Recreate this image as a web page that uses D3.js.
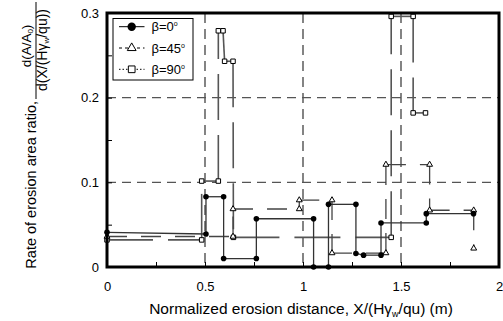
<!DOCTYPE html>
<html><head><meta charset="utf-8">
<script src="https://cdn.jsdelivr.net/npm/d3@7"></script>
<style>body{margin:0;background:#fff}svg{display:block}text{font-family:"Liberation Sans",Arial,sans-serif;fill:#000}</style>
</head><body><svg id="c" width="503" height="321"></svg>
<script>
// ---- data ----
const xTicks = [0, 0.5, 1, 1.5, 2];
const xTickLabels = ["0", "0.5", "1", "1.5", "2"];
const yTicks = [0, 0.1, 0.2, 0.3];
const yTickLabels = ["0", "0.1", "0.2", "0.3"];
const xMinor = [0.25, 0.5, 0.75, 1, 1.25, 1.5, 1.75];
const yMinor = [0.05, 0.1, 0.15, 0.2, 0.25];
const xGrid = [0.5, 1, 1.5];
const yGrid = [0.1, 0.2];
const seriesNames = ["β=0", "β=45", "β=90"];
const b0X = [0, 0.505, 0.505, 0.595, 0.595, 0.762, 0.762, 1.054, 1.054, 1.13, 1.13, 1.27, 1.27, 1.309, 1.398, 1.398, 1.629, 1.629, 1.87];
const b0Y = [0.041, 0.039, 0.083, 0.083, 0.010, 0.010, 0.057, 0.057, 0, 0, 0.074, 0.074, 0.016, 0.014, 0.014, 0.052, 0.052, 0.063, 0.063];
const b45X = [0, 0.643, 0.643, 0.981, 0.981, 1.148, 1.148, 1.423, 1.423, 1.646, 1.646, 1.871, 1.871];
const b45Y = [0.036, 0.036, 0.0685, 0.0685, 0.079, 0.079, 0.0165, 0.0165, 0.121, 0.121, 0.067, 0.067, 0.022];
const b90X = [0, 0.483, 0.483, 0.568, 0.568, 0.592, 0.600, 0.643, 0.645, 1.450, 1.450, 1.562, 1.562, 1.625];
const b90Y = [0.032, 0.032, 0.1015, 0.1015, 0.279, 0.279, 0.243, 0.243, 0.035, 0.035, 0.296, 0.296, 0.182, 0.182];

// ---- chart ----
const svg = d3.select("#c");
const L = 107, R = 499, T = 13, B = 267;
const x = d3.scaleLinear().domain([0, 2]).range([L, R]);
const y = d3.scaleLinear().domain([0, 0.3]).range([B, T]);

// grid
const g = svg.append("g");
g.selectAll(".vg").data(xGrid).join("line")
  .attr("x1", d => x(d)).attr("x2", d => x(d)).attr("y1", T).attr("y2", B)
  .attr("stroke", "#333").attr("stroke-width", 1.2).attr("stroke-dasharray", "10,6");
g.selectAll(".hg").data(yGrid).join("line")
  .attr("x1", L).attr("x2", R).attr("y1", d => y(d)).attr("y2", d => y(d))
  .attr("stroke", "#555").attr("stroke-width", 1.2).attr("stroke-dasharray", "9,6");

// minor ticks
svg.append("g").attr("transform", `translate(0,${B})`)
  .call(d3.axisBottom(x).tickValues(xMinor).tickSize(-5).tickFormat(""))
  .call(s => s.select(".domain").remove())
  .call(s => s.selectAll("line").attr("stroke", "#000").attr("stroke-width", 1));
svg.append("g").attr("transform", `translate(${L},0)`)
  .call(d3.axisLeft(y).tickValues(yMinor).tickSize(-5).tickFormat(""))
  .call(s => s.select(".domain").remove())
  .call(s => s.selectAll("line").attr("stroke", "#000").attr("stroke-width", 1));

// tick labels
svg.append("g").attr("transform", `translate(0,${B})`)
  .call(d3.axisBottom(x).tickValues(xTicks).tickSize(0).tickPadding(15).tickFormat((d, i) => xTickLabels[i]))
  .call(s => s.select(".domain").remove())
  .call(s => s.selectAll("text").attr("font-size", 13).attr("font-family", "Liberation Sans, Arial, sans-serif"));
svg.append("g").attr("transform", `translate(${L},0)`)
  .call(d3.axisLeft(y).tickValues(yTicks).tickSize(0).tickPadding(8).tickFormat((d, i) => yTickLabels[i]))
  .call(s => s.select(".domain").remove())
  .call(s => s.selectAll("text").attr("font-size", 13).attr("font-family", "Liberation Sans, Arial, sans-serif"));

// series
function pts(xs, ys) { return xs.map((v, i) => [v, ys[i]]); }
const series = [
  { p: pts(b0X, b0Y), stroke: "#333", w: 1.3, dash: null, sym: "circle" },
  { p: pts(b45X, b45Y), stroke: "#444", w: 1.3, dash: "20,14", sym: "tri" },
  { p: pts(b90X, b90Y), stroke: "#555", w: 1.6, dash: "46,15", sym: "sq" }
];
const lineGen = d3.line().x(d => x(d[0])).y(d => y(d[1]));
function marker(sel, sym, big) {
  const k = big ? 1.5 : 1;
  if (sym === "circle") {
    sel.append("circle").attr("r", 2.8 * k).attr("fill", "#000");
  } else if (sym === "tri") {
    sel.append("path").attr("d", d3.symbol(d3.symbolTriangle).size(15 * k * k)())
      .attr("fill", "#fff").attr("stroke", "#000").attr("stroke-width", 1);
  } else {
    sel.append("path").attr("d", d3.symbol(d3.symbolSquare).size(20 * k * k)())
      .attr("fill", "#fff").attr("stroke", "#000").attr("stroke-width", 1);
  }
}
// draw lines first for all series (90, 45, 0 order)
[2, 1, 0].forEach(si => {
  const s = series[si];
  svg.append("g").selectAll("path").data(d3.pairs(s.p)).join("path")
    .attr("d", d => lineGen(d)).attr("fill", "none")
    .attr("stroke", s.stroke).attr("stroke-width", s.w)
    .attr("stroke-dasharray", s.dash);
});
[2, 1, 0].forEach(si => {
  const s = series[si];
  svg.append("g").selectAll("g").data(s.p).join("g")
    .attr("transform", d => `translate(${x(d[0])},${y(d[1])})`)
    .each(function () { marker(d3.select(this), s.sym, false); });
});

// frame
svg.append("rect").attr("x", L).attr("y", T).attr("width", R - L).attr("height", B - T)
  .attr("fill", "none").attr("stroke", "#000").attr("stroke-width", 3);

// legend
const lg = svg.append("g");
lg.append("rect").attr("x", 113).attr("y", 18.5).attr("width", 80).attr("height", 61.5)
  .attr("fill", "#fff").attr("stroke", "#000").attr("stroke-width", 1);
const legDash = [null, "3,3", "1.5,2"];
const legSym = ["circle", "tri", "sq"];
seriesNames.forEach((n, i) => {
  const yy = 26.7 + i * 21.3;
  lg.append("line").attr("x1", 119).attr("x2", 144.5).attr("y1", yy).attr("y2", yy)
    .attr("stroke", "#000").attr("stroke-width", 1).attr("stroke-dasharray", legDash[i]);
  const m = lg.append("g").attr("transform", `translate(131.7,${yy})`);
  marker(m, legSym[i], true);
  const t = lg.append("text").attr("x", 151.5).attr("y", yy + 4.6).attr("font-size", 13).text(n);
  t.append("tspan").attr("font-size", 7).attr("dy", -5).text("o");
});

// x title
const xt = svg.append("text").attr("x", 301).attr("y", 314).attr("text-anchor", "middle").attr("font-size", 15.5);
xt.append("tspan").text("Normalized erosion distance, X/(Hγ");
xt.append("tspan").attr("font-size", 9).attr("dy", 3).text("w");
xt.append("tspan").attr("dy", -3).text("/qu) (m)");

// y title
const yt = svg.append("g").attr("transform", "rotate(-90)");
yt.append("text").attr("x", -101).attr("y", 36).attr("text-anchor", "end").attr("font-size", 14.5)
  .text("Rate of erosion area ratio,");
const num = yt.append("text").attr("x", -46).attr("y", 31).attr("text-anchor", "middle").attr("font-size", 13.5);
num.append("tspan").text("d(A/A");
num.append("tspan").attr("font-size", 8).attr("dy", 2).text("0");
num.append("tspan").attr("dy", -2).text(")");
const den = yt.append("text").attr("x", -50).attr("y", 47).attr("text-anchor", "middle").attr("font-size", 14);
den.append("tspan").text("d(X/(Hγ");
den.append("tspan").attr("font-size", 8).attr("dy", 2).text("w");
den.append("tspan").attr("dy", -2).text("/qu))");
svg.append("line").attr("x1", 36).attr("x2", 36).attr("y1", 2).attr("y2", 99)
  .attr("stroke", "#000").attr("stroke-width", 1);
</script></body></html>
